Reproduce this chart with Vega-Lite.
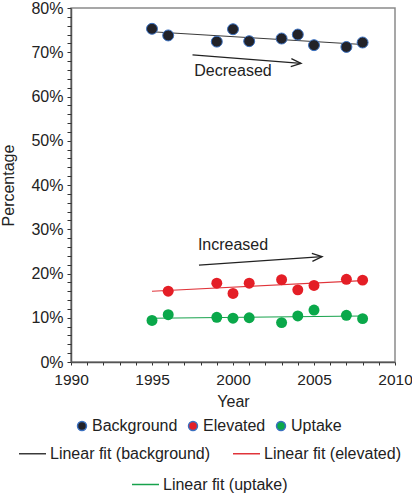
{
  "$schema": "https://vega.github.io/schema/vega-lite/v6.json",
  "width": 324,
  "height": 354,
  "autosize": {"type": "none"},
  "padding": {"left": 71, "top": 8, "right": 17, "bottom": 134},
  "datasets": {
    "points": [
      {"year": 1995, "pct": 75.3, "series": "Background", "fit": "Linear fit (background)"},
      {"year": 1996, "pct": 73.8, "series": "Background", "fit": "Linear fit (background)"},
      {"year": 1999, "pct": 72.4, "series": "Background", "fit": "Linear fit (background)"},
      {"year": 2000, "pct": 75.2, "series": "Background", "fit": "Linear fit (background)"},
      {"year": 2001, "pct": 72.5, "series": "Background", "fit": "Linear fit (background)"},
      {"year": 2003, "pct": 73.1, "series": "Background", "fit": "Linear fit (background)"},
      {"year": 2004, "pct": 74.0, "series": "Background", "fit": "Linear fit (background)"},
      {"year": 2005, "pct": 71.6, "series": "Background", "fit": "Linear fit (background)"},
      {"year": 2007, "pct": 71.2, "series": "Background", "fit": "Linear fit (background)"},
      {"year": 2008, "pct": 72.2, "series": "Background", "fit": "Linear fit (background)"},
      {"year": 1996, "pct": 16.0, "series": "Elevated", "fit": "Linear fit (elevated)"},
      {"year": 1999, "pct": 17.8, "series": "Elevated", "fit": "Linear fit (elevated)"},
      {"year": 2000, "pct": 15.5, "series": "Elevated", "fit": "Linear fit (elevated)"},
      {"year": 2001, "pct": 17.8, "series": "Elevated", "fit": "Linear fit (elevated)"},
      {"year": 2003, "pct": 18.6, "series": "Elevated", "fit": "Linear fit (elevated)"},
      {"year": 2004, "pct": 16.3, "series": "Elevated", "fit": "Linear fit (elevated)"},
      {"year": 2005, "pct": 17.3, "series": "Elevated", "fit": "Linear fit (elevated)"},
      {"year": 2007, "pct": 18.7, "series": "Elevated", "fit": "Linear fit (elevated)"},
      {"year": 2008, "pct": 18.5, "series": "Elevated", "fit": "Linear fit (elevated)"},
      {"year": 1995, "pct": 9.4, "series": "Uptake", "fit": "Linear fit (uptake)"},
      {"year": 1996, "pct": 10.7, "series": "Uptake", "fit": "Linear fit (uptake)"},
      {"year": 1999, "pct": 10.1, "series": "Uptake", "fit": "Linear fit (uptake)"},
      {"year": 2000, "pct": 9.9, "series": "Uptake", "fit": "Linear fit (uptake)"},
      {"year": 2001, "pct": 10.0, "series": "Uptake", "fit": "Linear fit (uptake)"},
      {"year": 2003, "pct": 8.9, "series": "Uptake", "fit": "Linear fit (uptake)"},
      {"year": 2004, "pct": 10.4, "series": "Uptake", "fit": "Linear fit (uptake)"},
      {"year": 2005, "pct": 11.75, "series": "Uptake", "fit": "Linear fit (uptake)"},
      {"year": 2007, "pct": 10.55, "series": "Uptake", "fit": "Linear fit (uptake)"},
      {"year": 2008, "pct": 9.8, "series": "Uptake", "fit": "Linear fit (uptake)"}
    ],
    "arrows": [
      {"label": "Decreased", "x1": 1997.5, "y1": 69.4, "x2": 2004.2, "y2": 67.5, "tx": 2000.0, "ty": 65.8, "angle": 4.4},
      {"label": "Increased", "x1": 1997.9, "y1": 21.9, "x2": 2005.5, "y2": 23.8, "tx": 2000.0, "ty": 26.4, "angle": -3.9}
    ]
  },
  "layer": [
    {
      "data": {"name": "points"},
      "transform": [
        {"filter": "datum.series !== 'Uptake'"},
        {"regression": "pct", "on": "year", "groupby": ["fit"], "extent": [1995, 2008]}
      ],
      "mark": {"type": "line", "strokeWidth": 1.1},
      "encoding": {
        "x": {
          "field": "year",
          "type": "quantitative",
          "scale": {"domain": [1990, 2010], "nice": false, "zero": false},
          "axis": {
            "orient": "bottom",
            "title": "Year",
            "values": [1990, 1995, 2000, 2005, 2010],
            "format": "d",
            "labelFlush": false,
            "labelOverlap": false,
            "labelFontSize": 15.5,
            "tickSize": 3,
            "labelPadding": 7,
            "titlePadding": 6
          }
        },
        "y": {
          "field": "pct",
          "type": "quantitative",
          "scale": {"domain": [0, 80], "nice": false},
          "axis": {
            "orient": "left",
            "title": "Percentage",
            "values": [0, 10, 20, 30, 40, 50, 60, 70, 80],
            "labelExpr": "datum.value + '%'",
            "labelFlush": false,
            "labelOverlap": false,
            "tickSize": 4,
            "labelPadding": 4,
            "titlePadding": 14
          }
        },
        "stroke": {
          "field": "fit",
          "type": "nominal",
          "scale": {
            "domain": ["Linear fit (background)", "Linear fit (elevated)"],
            "range": ["#3a3a3a", "#e0343a"]
          },
          "legend": {
            "title": null,
            "orient": "none",
            "legendX": -53,
            "legendY": 431,
            "direction": "horizontal",
            "columns": 2,
            "symbolType": "stroke",
            "symbolSize": 729,
            "symbolStrokeWidth": 1.5,
            "labelOffset": 3,
            "labelLimit": 300,
            "columnPadding": 19,
            "encode": {
              "symbols": {
                "update": {
                  "stroke": {"signal": "datum.value === 'Linear fit (background)' ? '#7a7a7a' : '#f07a7a'"}
                }
              }
            }
          }
        }
      }
    },
    {
      "data": {"name": "points"},
      "transform": [
        {"filter": "datum.series === 'Uptake'"},
        {"regression": "pct", "on": "year", "groupby": ["fit"], "extent": [1995, 2008]}
      ],
      "mark": {"type": "line", "strokeWidth": 1.1},
      "encoding": {
        "x": {"field": "year", "type": "quantitative", "axis": null},
        "y": {"field": "pct", "type": "quantitative", "axis": null},
        "color": {
          "field": "fit",
          "type": "nominal",
          "scale": {"domain": ["Linear fit (uptake)"], "range": ["#17a24c"]},
          "legend": {
            "title": null,
            "orient": "none",
            "legendX": 60,
            "legendY": 462,
            "symbolType": "stroke",
            "symbolSize": 729,
            "symbolStrokeWidth": 1.5,
            "labelOffset": 3,
            "labelLimit": 300
          }
        }
      }
    },
    {
      "data": {"name": "points"},
      "mark": {"type": "point", "filled": true, "opacity": 1, "size": 120, "stroke": "#3a70c0"},
      "encoding": {
        "x": {
          "field": "year",
          "type": "quantitative",
          "axis": {
            "orient": "bottom",
            "title": null,
            "values": [1991, 1992, 1993, 1994, 1996, 1997, 1998, 1999, 2001, 2002, 2003, 2004, 2006, 2007, 2008, 2009],
            "labels": false,
            "domain": false,
            "tickSize": 3
          }
        },
        "y": {
          "field": "pct",
          "type": "quantitative",
          "axis": {
            "orient": "left",
            "title": null,
            "values": [2, 4, 6, 8, 12, 14, 16, 18, 22, 24, 26, 28, 32, 34, 36, 38, 42, 44, 46, 48, 52, 54, 56, 58, 62, 64, 66, 68, 72, 74, 76, 78],
            "labels": false,
            "domain": false,
            "tickSize": 4
          }
        },
        "fill": {
          "field": "series",
          "type": "nominal",
          "scale": {
            "domain": ["Background", "Elevated", "Uptake"],
            "range": ["#222228", "#e41e26", "#0aa84a"]
          },
          "legend": {
            "title": null,
            "orient": "none",
            "legendX": 3,
            "legendY": 410,
            "direction": "horizontal",
            "symbolType": "circle",
            "symbolSize": 80,
            "labelOffset": 2,
            "columnPadding": 7,
            "encode": {
              "symbols": {
                "update": {
                  "stroke": {"value": "#3a70c0"},
                  "strokeWidth": {"signal": "datum.value === 'Background' ? 1 : 0"}
                }
              }
            }
          }
        },
        "strokeWidth": {
          "condition": {"test": "datum.series === 'Background'", "value": 1},
          "value": 0
        }
      }
    },
    {
      "data": {"name": "arrows"},
      "mark": {"type": "rule", "color": "#222", "strokeWidth": 1.3},
      "encoding": {
        "x": {"field": "x1", "type": "quantitative", "axis": null},
        "y": {"field": "y1", "type": "quantitative", "axis": null},
        "x2": {"field": "x2"},
        "y2": {"field": "y2"}
      }
    },
    {
      "data": {"name": "arrows"},
      "mark": {
        "type": "point",
        "shape": "M-1,-0.4L0,0L-1,0.4",
        "filled": false,
        "size": 400,
        "stroke": "#222",
        "strokeWidth": 1.3,
        "opacity": 1
      },
      "encoding": {
        "x": {"field": "x2", "type": "quantitative", "axis": null},
        "y": {"field": "y2", "type": "quantitative", "axis": null},
        "angle": {"field": "angle", "type": "quantitative", "scale": null}
      }
    },
    {
      "data": {"name": "arrows"},
      "mark": {"type": "text", "fontSize": 16, "color": "#222"},
      "encoding": {
        "x": {"field": "tx", "type": "quantitative", "axis": null},
        "y": {"field": "ty", "type": "quantitative", "axis": null},
        "text": {"field": "label"}
      }
    }
  ],
  "resolve": {
    "axis": {"x": "independent", "y": "independent"},
    "legend": {"fill": "independent", "stroke": "independent", "color": "independent"}
  },
  "config": {
    "font": "Liberation Sans",
    "view": {"stroke": "#8a8a8a", "strokeWidth": 1.5},
    "axis": {
      "grid": false,
      "labelFont": "Liberation Sans",
      "labelFontSize": 16,
      "labelColor": "#222",
      "titleFont": "Liberation Sans",
      "titleFontSize": 16,
      "titleFontWeight": "normal",
      "titleColor": "#222",
      "domainColor": "#555",
      "domainWidth": 1.5,
      "tickColor": "#333",
      "tickWidth": 1
    },
    "legend": {
      "labelFont": "Liberation Sans",
      "labelFontSize": 16,
      "labelColor": "#222"
    }
  }
}
